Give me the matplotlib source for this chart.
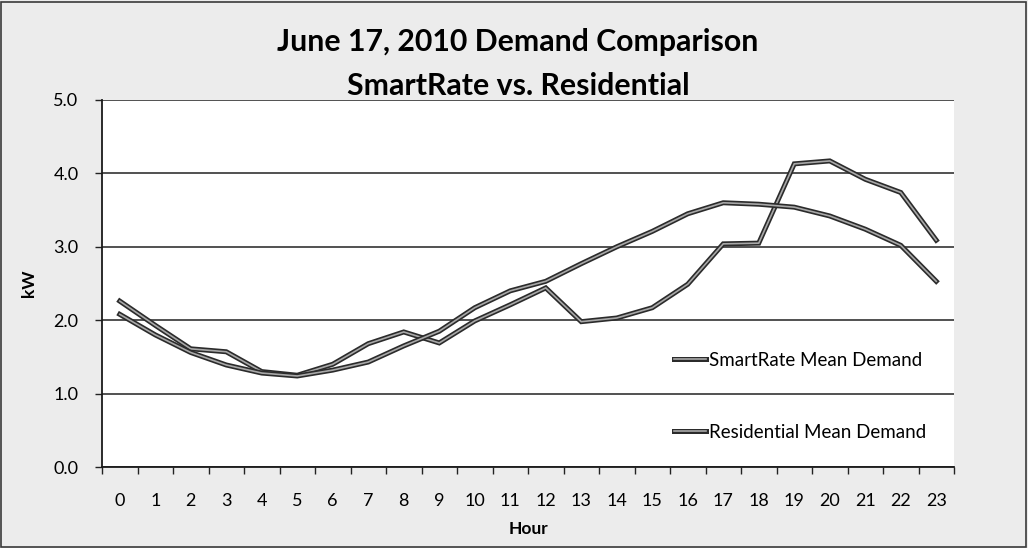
import matplotlib
matplotlib.use("Agg")
import matplotlib.pyplot as plt
import matplotlib.patheffects as pe
from matplotlib.patches import Rectangle
import numpy as np

hours = list(range(24))
hour_labels = [str(h) for h in hours]
smartrate = [2.26, 1.93, 1.61, 1.57, 1.30, 1.25, 1.40, 1.68, 1.84, 1.69, 1.99, 2.21,
             2.44, 1.98, 2.03, 2.17, 2.49, 3.04, 3.05, 4.13, 4.17, 3.92, 3.74, 3.09]
residential = [2.08, 1.80, 1.56, 1.39, 1.28, 1.24, 1.32, 1.43, 1.65, 1.85, 2.17, 2.40,
               2.53, 2.77, 3.00, 3.21, 3.45, 3.60, 3.58, 3.54, 3.42, 3.24, 3.02, 2.53]
series_names = ["SmartRate Mean Demand", "Residential Mean Demand"]
y_ticks = [0.0, 1.0, 2.0, 3.0, 4.0, 5.0]

plt.rcParams['font.family'] = ['Lato', 'DejaVu Sans']

W, H = 1028, 548
fig = plt.figure(figsize=(W / 100, H / 100), dpi=100)
fig.patch.set_facecolor('#ececec')
fig.patches.append(Rectangle((0.001, 0.002), 0.997, 0.995, transform=fig.transFigure,
                             fill=False, edgecolor='#3a3a3a', linewidth=1.2))

ax = fig.add_axes([102 / W, 1 - 467 / H, (954 - 102) / W, (467 - 100) / H])
ax.set_facecolor('white')

effects = [pe.Stroke(linewidth=3.6, foreground='#2b2b2b'), pe.Normal()]
for vals, name in zip([smartrate, residential], series_names):
    ax.plot(hours, vals, color='#a8a8a8', linewidth=1.2, label=name,
            path_effects=effects, solid_joinstyle='miter', zorder=3)

ax.set_xlim(-0.5, 23.5)
ax.set_ylim(0, 5)
ax.set_yticks(y_ticks)
ax.set_yticklabels([f"{v:.1f}" for v in y_ticks], fontsize=13)
ax.set_xticks(hours)
ax.set_xticklabels(hour_labels, fontsize=13)
ax.set_xticks(np.arange(-0.5, 24, 1), minor=True)
ax.tick_params(axis='x', which='major', length=0, pad=19)
ax.tick_params(axis='x', which='minor', length=5, width=1, color='#222', direction='out')
ax.tick_params(axis='y', which='major', length=5, width=1, color='#222', pad=12)

ax.yaxis.grid(True, color='#333333', linewidth=1.2)
ax.set_axisbelow(True)
for s in ['top', 'right']:
    ax.spines[s].set_visible(False)
for s in ['left', 'bottom']:
    ax.spines[s].set_color('#1a1a1a')
    ax.spines[s].set_linewidth(1.3)

ax.set_xlabel("Hour", fontsize=12.5, fontweight='bold', labelpad=8)
ax.set_ylabel("kW", fontsize=12.5, fontweight='bold', labelpad=12)

leg = ax.legend(loc='upper left', bbox_to_anchor=(0.662, 0.335), frameon=False,
                fontsize=13.5, handlelength=1.75, handletextpad=0.15, labelspacing=2.95,
                borderaxespad=0)

fig.text(0.504, 1 - 42 / H, "June 17, 2010 Demand Comparison", ha='center', va='center',
         fontsize=21.8, fontweight='bold')
fig.text(0.504, 1 - 86 / H, "SmartRate vs. Residential", ha='center', va='center',
         fontsize=21.8, fontweight='bold')

fig.savefig("out.png", dpi=100, facecolor=fig.get_facecolor())
